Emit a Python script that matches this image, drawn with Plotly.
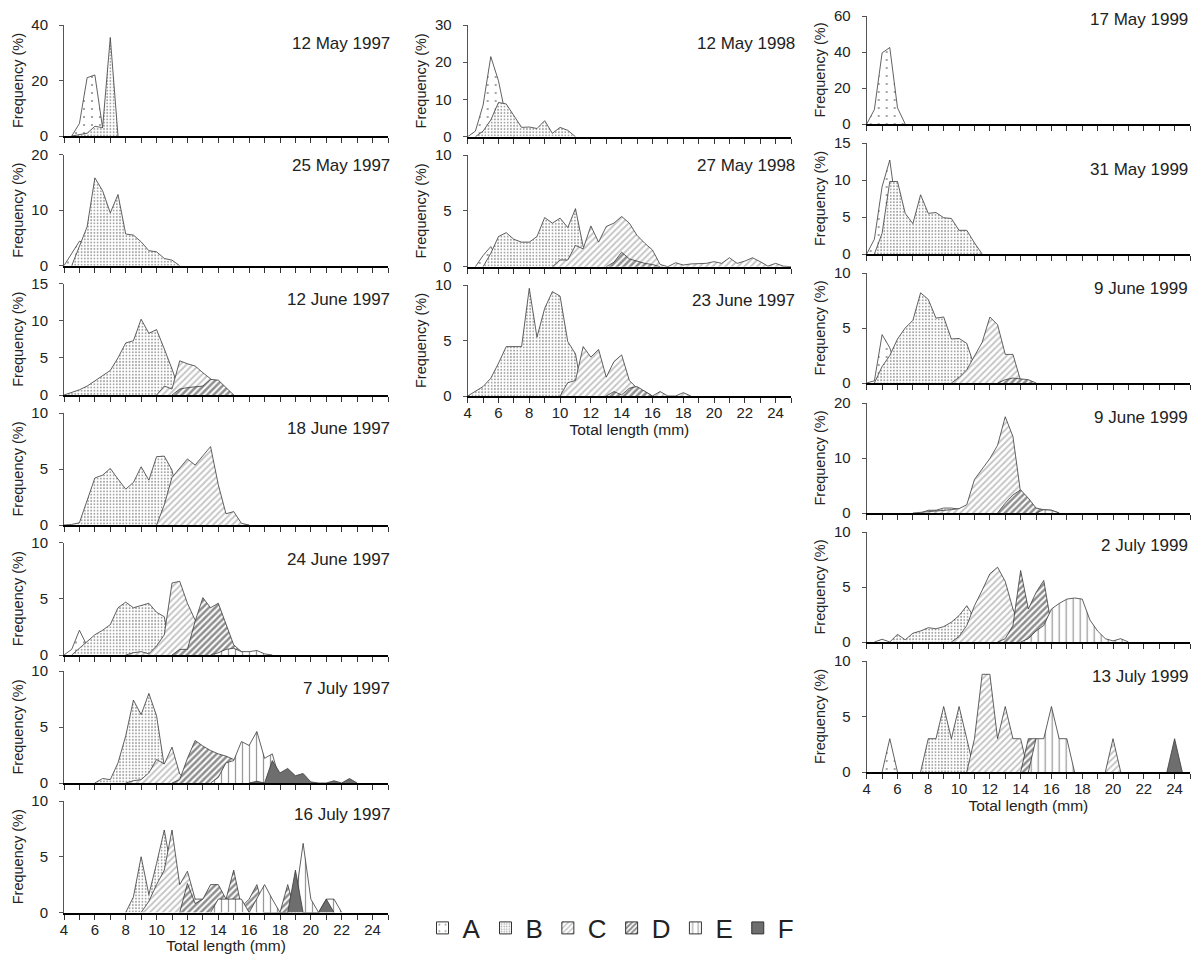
import plotly.graph_objects as go

# ---------------- data: frequency (%) per 0.5-mm total-length class ----------------
# each series: (first length class in mm, frequencies at successive 0.5 mm classes)
may12_1997 = {"A": (4.5, [0, 4.5, 21, 22, 3, 0]),
              "B": (4.5, [0, 0.5, 1, 3.5, 3, 35.5, 0])}
may25_1997 = {"A": (4.0, [0, 2.2, 4.4, 4.0, 0]),
              "B": (4.5, [0, 3.5, 7, 15.8, 13.5, 9.5, 12.8, 5.7, 5.5, 4.3, 2.7, 2.5, 1.3, 1.0, 0])}
jun12_1997 = {"B": (4.0, [0, 0.3, 0.7, 1.2, 1.9, 2.6, 3.3, 5.0, 7.0, 7.3, 10.2, 8.3, 8.8, 6.2, 3.5, 0.5, 0]),
              "C": (10.0, [0, 1.2, 0.8, 4.6, 4.2, 3.9, 3.0, 2.2, 1.3, 0.5, 0]),
              "D": (11.0, [0, 0.8, 1.0, 1.1, 1.2, 2.1, 2.0, 1.0, 0])}
jun18_1997 = {"B": (4.0, [0, 0.05, 0.2, 2.2, 4.2, 4.45, 5.05, 4.1, 3.2, 3.8, 5.2, 4.0, 6.1, 6.15, 4.9, 1.5, 0]),
              "C": (10.0, [0, 1.8, 4.25, 5.1, 5.9, 5.35, 6.2, 7.0, 3.6, 1.0, 1.2, 0.15, 0])}
jun24_1997 = {"A": (4.0, [0, 0.5, 2.2, 0.8, 0.5, 0]),
              "B": (4.5, [0, 0.6, 1.2, 1.8, 2.2, 2.7, 4.2, 4.7, 4.2, 4.4, 4.6, 3.8, 3.4, 0]),
              "C": (8.0, [0, 0.2, 0.3, 0.1, 0.8, 1.8, 6.4, 6.55, 4.6, 3.1, 2.2, 1.5, 1.0, 0.5, 0]),
              "D": (11.0, [0, 0.5, 0.5, 3.0, 5.1, 4.2, 4.6, 2.7, 0.9, 0.3, 0]),
              "E": (13.5, [0, 0.2, 0.5, 0.6, 0.3, 0.3, 0.4, 0.1, 0])}
jul07_1997 = {"B": (6.0, [0, 0.4, 0.3, 1.8, 4.2, 7.4, 6.1, 8.0, 6.0, 1.5, 0.3, 0]),
              "C": (8.0, [0, 0.2, 0.3, 0.9, 2.1, 1.7, 3.2, 0.8, 0.2, 0.1, 0]),
              "D": (11.0, [0, 0.3, 2.2, 3.8, 3.3, 2.9, 2.6, 2.4, 2.1, 0.5, 0]),
              "E": (13.5, [0, 0.5, 1.8, 2.0, 3.7, 3.35, 4.6, 2.2, 2.6, 0.2, 0]),
              "F": (16.0, [0, 0.15, 0, 2.0, 0.9, 1.3, 0.65, 0.85, 0.1, 0, 0, 0.2, 0, 0.4, 0])}
jul16_1997 = {"B": (8.0, [0, 1.4, 5.0, 1.6, 4.4, 7.4, 3.5, 0]),
              "C": (9.0, [0, 1.0, 2.5, 3.8, 7.4, 2.5, 3.7, 1.2, 1.2, 0]),
              "D": (11.5, [0, 2.6, 0.8, 1.2, 2.5, 2.5, 1.2, 3.8, 0.5, 1.2, 2.5, 0, 0, 0, 2.5, 0]),
              "E": (13.5, [0, 1.2, 1.2, 1.2, 1.2, 0, 1.2, 2.5, 1.2, 0, 0, 1.2, 6.2, 1.2, 0, 1.2, 1.2, 0]),
              "F": (18.5, [0, 3.8, 0, 0, 0, 1.2, 0])}
may12_1998 = {"A": (4.0, [0, 1.5, 8.5, 21.5, 15, 5, 0]),
              "B": (4.5, [0, 1.5, 4.5, 9.2, 8.8, 5.8, 2.5, 2.6, 2.2, 4.3, 0.9, 2.5, 1.7, 0])}
may27_1998 = {"A": (4.5, [0, 1.0, 1.8, 0.5, 0]),
              "B": (5.0, [0, 1.2, 2.7, 3.05, 2.45, 2.2, 2.2, 2.7, 4.4, 3.9, 4.35, 3.5, 5.2, 1.8, 1.5, 0]),
              "C": (9.5, [0, 0.6, 0.6, 1.9, 1.6, 3.65, 2.2, 3.6, 3.9, 4.5, 3.9, 2.8, 2.1, 1.5, 0.2, 0,
                          0.35, 0.15, 0.25, 0.25, 0.3, 0.45, 0.3, 0.8, 0.3, 0.5, 0.8, 0.45, 0.05, 0.3, 0.05, 0]),
              "D": (13.0, [0, 0.4, 1.3, 0.7, 0.5, 0.3, 0.2, 0])}
jun23_1997 = {"A": (5.5, [0, 0.4, 0]),
              "B": (4.0, [0, 0.4, 0.85, 1.6, 2.95, 4.45, 4.45, 4.45, 9.7, 5.3, 7.9, 9.4, 9.0, 4.9, 3.8, 0]),
              "C": (10.0, [0, 1.2, 1.4, 4.45, 3.5, 4.2, 1.7, 3.1, 3.7, 1.4, 0.7, 0.4, 0, 0.4, 0, 0, 0.3, 0]),
              "D": (13.0, [0, 0.4, 0.1, 0.7, 0.85, 0.4, 0])}
may17_1999 = {"A": (4.0, [0, 8, 39.5, 42.5, 9, 0])}
may31_1999 = {"A": (4.0, [0, 2.0, 9.1, 12.7, 5, 0]),
              "B": (4.5, [0, 2.8, 9.8, 9.8, 5.5, 4.1, 8.0, 5.5, 5.6, 4.9, 4.8, 3.2, 3.2, 1.5, 0])}
jun09_1999a = {"A": (4.0, [0, 0.2, 4.4, 3.2, 1.0, 0]),
               "B": (4.5, [0, 1.5, 2.5, 4.0, 5.0, 5.7, 8.2, 7.6, 5.9, 6.0, 4.0, 4.05, 3.6, 1.5, 0]),
               "C": (9.5, [0, 0.5, 1.2, 2.4, 3.7, 6.0, 5.3, 2.6, 2.6, 0.2, 0]),
               "D": (12.5, [0, 0.3, 0.45, 0.35, 0.3, 0])}
jun09_1999b = {"B": (7.5, [0, 0.5, 0.5, 0.9, 0.9, 0.7, 0]),
               "C": (7.0, [0, 0.1, 0.3, 0.3, 0.5, 0.6, 0.8, 1.5, 6.1, 8.1, 9.9, 12.3, 17.5, 13.9, 3.6, 1.2, 0.5, 0.3, 0]),
               "D": (12.5, [0, 1.8, 3.3, 4.2, 2.7, 0.9, 0.6, 0.5, 0]),
               "E": (15.0, [0, 0.6, 0.5, 0])}
jul02_1999 = {"A": (4.5, [0, 0.25, 0]),
              "B": (5.5, [0, 0.7, 0.2, 0.8, 1.0, 1.3, 1.2, 1.4, 1.8, 2.4, 3.3, 2.2, 0.5, 0]),
              "C": (9.5, [0, 0.5, 1.5, 3.3, 4.7, 6.2, 6.8, 5.5, 3.0, 1.3, 0.5, 0.3, 0]),
              "D": (12.5, [0, 0.3, 1.5, 6.5, 3.0, 4.5, 5.6, 1.5, 0.2, 0]),
              "E": (14.0, [0, 0.3, 1.0, 1.5, 3.0, 3.5, 3.9, 4.0, 3.9, 2.0, 1.0, 0.3, 0.1, 0.3, 0])}
jul13_1999 = {"A": (5.0, [0, 3.0, 0]),
              "B": (7.5, [0, 3.0, 3.0, 5.9, 3.0, 5.9, 3.0, 0]),
              "C": (10.5, [0, 3.0, 8.8, 8.8, 3.0, 5.9, 3.0, 3.0, 0]),
              "D": (14.0, [0, 3.0, 3.0, 0]),
              "E": (14.5, [0, 3.0, 3.0, 5.9, 3.0, 3.0, 0]),
              "F": (23.5, [0, 3.0, 0])}
jul13_1999_C2 = (19.5, [0, 3.0, 0])

SERIES_ORDER = ["A", "B", "C", "D", "E", "F"]
X_TICKS_MM = [4, 6, 8, 10, 12, 14, 16, 18, 20, 22, 24]

# ---------------- panels: title, data, column, y max, y tick step ----------------
PANELS = [
    ("12 May 1997", may12_1997, 1, 40, 20),
    ("25 May 1997", may25_1997, 1, 20, 10),
    ("12 June 1997", jun12_1997, 1, 15, 5),
    ("18 June 1997", jun18_1997, 1, 10, 5),
    ("24 June 1997", jun24_1997, 1, 10, 5),
    ("7 July 1997", jul07_1997, 1, 10, 5),
    ("16 July 1997", jul16_1997, 1, 10, 5),
    ("12 May 1998", may12_1998, 2, 30, 10),
    ("27 May 1998", may27_1998, 2, 10, 5),
    ("23 June 1997", jun23_1997, 2, 10, 5),
    ("17 May 1999", may17_1999, 3, 60, 20),
    ("31 May 1999", may31_1999, 3, 15, 5),
    ("9 June 1999", jun09_1999a, 3, 10, 5),
    ("9 June 1999", jun09_1999b, 3, 20, 10),
    ("2 July 1999", jul02_1999, 3, 10, 5),
    ("13 July 1999", jul13_1999, 3, 10, 5),
]

# ---------------- layout geometry (pixels on the page) ----------------
W, H = 1204, 960
PAGE_OFFSET = 8  # the page body margin shifts the figure by this much
COL_X = {1: (64, 388), 2: (467.7, 791), 3: (866.7, 1190)}
PANEL_Y = [(25, 136), (154.5, 265.7), (283.5, 395), (413, 525), (542.5, 655), (671, 783), (801, 912.5),
           (25, 136.7), (155, 266.7), (285, 396),
           (16, 124), (143, 254), (273, 383), (403, 513), (532, 642), (661, 772)]
TITLE_POS = [(392, 43), (392, 165), (392, 299), (392, 429), (392, 559), (392, 688), (392, 814),
             (797, 43), (797, 165), (797, 300),
             (1190, 20), (1190, 170), (1190, 288), (1190, 418), (1190, 545), (1190, 676)]
BOTTOM = {6, 9, 15}

FONT = "Liberation Sans, Arial, sans-serif"
LINE = dict(color="#3a3a3a", width=0.8)
STYLE = {
    "A": dict(shape=".", fgcolor="#222222", bgcolor="white", size=8, solidity=0.06),
    "B": dict(shape=".", fgcolor="#4a4a4a", bgcolor="white", size=3.2, solidity=0.28),
    "C": dict(shape="/", fgcolor="#8a8a8a", bgcolor="white", size=4.5, solidity=0.4),
    "D": dict(shape="/", fgcolor="#1e1e1e", bgcolor="white", size=4.5, solidity=0.55),
    "E": dict(shape="|", fgcolor="#333333", bgcolor="white", size=7, solidity=0.18),
}
F_COLOR = "#6e6e6e"


def px_to_x(p):
    return (p - PAGE_OFFSET) / W


def px_to_y(p):
    return 1 - (p - PAGE_OFFSET) / H


def area(x0, vals, key, axn):
    xs = [x0 + 0.5 * i for i in range(len(vals))]
    kw = dict(x=xs, y=vals, mode="lines", fill="tozeroy", line=LINE, showlegend=False,
              xaxis="x" + axn, yaxis="y" + axn, hoverinfo="skip", name=key)
    if key == "F":
        kw["fillcolor"] = F_COLOR
    else:
        kw["fillcolor"] = "white"
        kw["fillpattern"] = STYLE[key]
    return go.Scatter(**kw)


fig = go.Figure()
layout = dict(width=W, height=H, margin=dict(l=0, r=0, t=0, b=0, autoexpand=False), plot_bgcolor="white",
              paper_bgcolor="white", font=dict(family=FONT, color="#222"), annotations=[])

for i, (title, data, col, ymax, ystep) in enumerate(PANELS):
    n = i + 1
    axn = "" if n == 1 else str(n)
    for key in SERIES_ORDER:
        if key in data:
            x0, vals = data[key]
            fig.add_trace(area(x0, vals, key, axn))
        if key == "C" and data is jul13_1999:
            fig.add_trace(area(jul13_1999_C2[0], jul13_1999_C2[1], "C", axn))
    top, bot = PANEL_Y[i]
    xl, xr = COL_X[col]
    is_bottom = i in BOTTOM
    xa = dict(domain=[px_to_x(xl), px_to_x(xr)], range=[4, 25], anchor="y" + axn, automargin=False,
              showline=True, linecolor="black", linewidth=2, showgrid=False, zeroline=False,
              ticks="outside", ticklen=5, tickwidth=1, tickcolor="#333",
              tickvals=X_TICKS_MM, ticktext=[str(v) for v in X_TICKS_MM],
              minor=dict(dtick=1, tick0=4, ticks="outside", ticklen=5, tickwidth=1, tickcolor="#333"),
              showticklabels=is_bottom, tickfont=dict(size=15, family=FONT, color="#222"),
              ticklabelstandoff=-3, ticklabeloverflow="allow")
    if is_bottom:
        xa["title"] = dict(text="Total length (mm)", font=dict(size=15.5, family=FONT, color="#222"),
                           standoff=0)
    ya = dict(domain=[px_to_y(bot), px_to_y(top)], range=[0, ymax], anchor="x" + axn, automargin=False,
              showline=True, linecolor="#555", linewidth=1, showgrid=False, zeroline=False,
              ticks="outside", ticklen=4, tickcolor="#555", dtick=ystep, tick0=0,
              tickfont=dict(size=15, family=FONT, color="#222"), ticklabelstandoff=8,
              ticklabeloverflow="allow",
              title=dict(text="Frequency (%)", font=dict(size=14.5, family=FONT, color="#222"),
                         standoff=4))
    layout["xaxis" + axn] = xa
    layout["yaxis" + axn] = ya
    tx, ty = TITLE_POS[i]
    layout["annotations"].append(dict(text=title, x=px_to_x(tx), y=px_to_y(ty), xref="paper",
                                      yref="paper", xanchor="right", yanchor="middle",
                                      showarrow=False, font=dict(size=17, family=FONT, color="#222")))

# legend entries (key swatches)
for key in SERIES_ORDER:
    if key == "F":
        marker = dict(color=F_COLOR, line=dict(color="#333", width=1))
    else:
        marker = dict(color="white", line=dict(color="#333", width=1), pattern=STYLE[key])
    fig.add_trace(go.Bar(x=[None], y=[None], name=key, marker=marker, showlegend=True,
                         xaxis="x", yaxis="y", hoverinfo="skip"))

layout["showlegend"] = True
layout["legend"] = dict(orientation="h", x=px_to_x(611), xanchor="center", y=px_to_y(928), yanchor="middle",
                        font=dict(size=26, family=FONT, color="#222"), bgcolor="rgba(0,0,0,0)",
                        itemwidth=30, traceorder="normal")
fig.update_layout(**layout)
fig.write_html("out.html")
